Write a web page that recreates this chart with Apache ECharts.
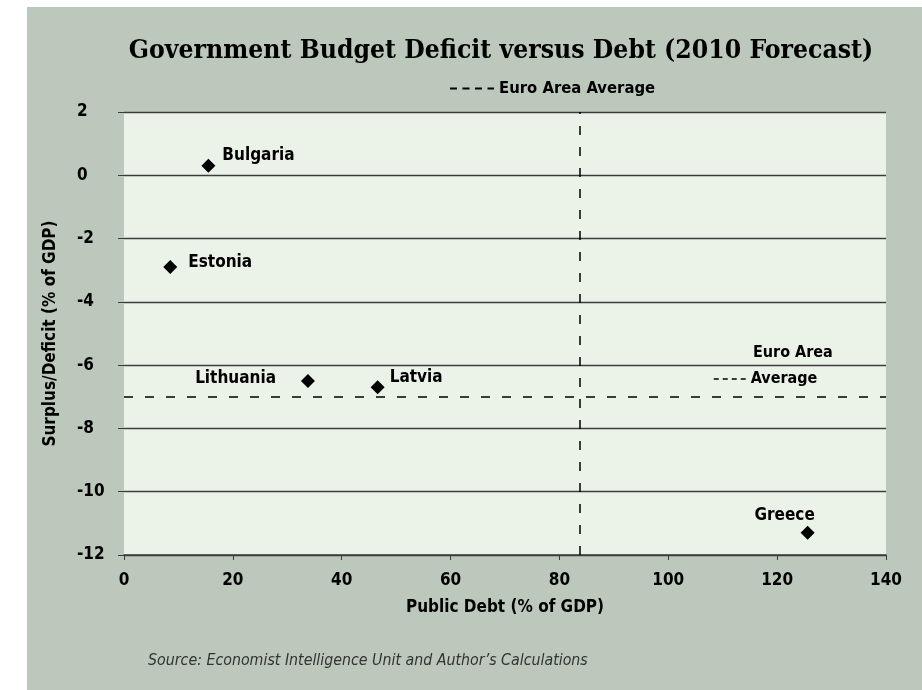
<!DOCTYPE html>
<html>
<head>
<meta charset="utf-8">
<script src="https://cdn.jsdelivr.net/npm/echarts@6/dist/echarts.min.js"></script>
<style>
  html, body { margin: 0; padding: 0; background: #ffffff; }
  #chart { width: 922px; height: 690px; }
</style>
</head>
<body>
<div id="chart"></div>
<script>
// Country points: public debt vs budget balance (% of GDP)
const countries = ['Bulgaria', 'Estonia', 'Lithuania', 'Latvia', 'Greece'];
const publicDebt = [15.5, 8.5, 33.8, 46.6, 125.6];
const budgetBalance = [0.3, -2.9, -6.5, -6.7, -11.3];

// Euro area averages
const euroAvgDebt = 83.7;
const euroAvgBalance = -7.0;

// Label placement per country (style only)
const labelStyle = {
  Bulgaria: { position: 'right', offset: [2, -10] },
  Estonia: { position: 'right', offset: [6, -4] },
  Lithuania: { position: 'left', offset: [-20, -2] },
  Latvia: { position: 'right', offset: [0, -10] },
  Greece: { position: 'top', offset: [-23, 3] },
};

const FONT = "'Liberation Sans Narrow', 'DejaVu Sans Condensed', 'Roboto', sans-serif";
const COLORS = {
  panel: '#bdc8bc',
  plot: '#ebf2e7',
  grid: '#3c3c3c',
  text: '#000000',
};

const chart = echarts.init(document.getElementById('chart'));

const points = countries.map((name, i) => {
  const ls = labelStyle[name];
  return {
    name: name,
    value: [publicDebt[i], budgetBalance[i]],
    label: { show: true, formatter: '{b}', position: ls.position, offset: ls.offset },
  };
});

const option = {
  backgroundColor: '#ffffff',
  animation: false,

  graphic: [
    {
      type: 'rect',
      z: -10,
      shape: { x: 27, y: 7, width: 895, height: 683 },
      style: { fill: COLORS.panel },
    },
    {
      type: 'text',
      left: 753,
      top: 345,
      style: { text: 'Euro Area', font: 'bold 16px ' + FONT, fill: COLORS.text },
    },
  ],

  title: [
    {
      text: 'Government Budget Deficit versus Debt (2010 Forecast)',
      left: 496,
      textAlign: 'center',
      top: 33,
      textStyle: { fontFamily: "'DejaVu Serif Condensed', 'DejaVu Serif', serif", fontWeight: 'bold', fontSize: 26.3, color: '#000' },
    },
    {
      text: 'Source: Economist Intelligence Unit and Author\u2019s Calculations',
      left: 143,
      top: 648,
      textStyle: { fontFamily: FONT, fontStyle: 'italic', fontWeight: 'normal', fontSize: 15.8, color: '#333' },
    },
  ],

  legend: [
    {
      data: ['Euro Area Average'],
      top: 80,
      left: 449,
      padding: 0,
      itemWidth: 44,
      itemHeight: 10,
      itemGap: 10,
      itemStyle: { opacity: 0 },
      lineStyle: { type: [7, 5.5], width: 2, color: '#000' },
      textStyle: { fontFamily: FONT, fontWeight: 'bold', fontSize: 16.5, color: COLORS.text },
    },
    {
      data: ['Euro Area Average'],
      top: 371,
      left: 713,
      padding: 0,
      itemWidth: 32,
      itemHeight: 10,
      itemGap: 10,
      itemStyle: { opacity: 0 },
      lineStyle: { type: [5, 4], width: 1.5, color: '#000' },
      formatter: () => 'Average',
      textStyle: { fontFamily: FONT, fontWeight: 'bold', fontSize: 16, color: COLORS.text },
    },
  ],

  grid: {
    left: 124, right: 36, top: 112, bottom: 135,
    show: true, backgroundColor: COLORS.plot, borderWidth: 0,
  },

  xAxis: {
    type: 'value',
    min: 0, max: 140, interval: 20,
    name: 'Public Debt (% of GDP)',
    nameLocation: 'middle',
    nameGap: 44,
    nameTextStyle: { fontFamily: FONT, fontWeight: 'bold', fontSize: 17, color: COLORS.text },
    axisLine: { show: true, onZero: false, lineStyle: { color: COLORS.grid, width: 1.5 } },
    axisTick: { show: true, length: 5, lineStyle: { color: COLORS.grid } },
    axisLabel: { margin: 17, fontFamily: FONT, fontWeight: 'bold', fontSize: 17, color: COLORS.text },
    splitLine: { show: false },
  },

  yAxis: {
    type: 'value',
    min: -12, max: 2, interval: 2,
    name: 'Surplus/Deficit (% of GDP)',
    nameLocation: 'middle',
    nameGap: 65,
    nameRotate: 90,
    nameTextStyle: { fontFamily: FONT, fontWeight: 'bold', fontSize: 17, color: COLORS.text },
    axisLine: { show: false, onZero: false },
    axisTick: { show: true, length: 6, lineStyle: { color: COLORS.grid } },
    axisLabel: { align: 'left', margin: 47, fontFamily: FONT, fontWeight: 'bold', fontSize: 17, color: COLORS.text },
    splitLine: { show: true, lineStyle: { color: COLORS.grid, width: 1.3 } },
  },

  series: [
    {
      name: 'Countries',
      type: 'scatter',
      symbol: 'diamond',
      symbolSize: 14,
      itemStyle: { color: '#000', opacity: 1 },
      label: { fontFamily: FONT, fontWeight: 'bold', fontSize: 17, color: COLORS.text },
      data: points,
      markLine: {
        silent: true,
        symbol: 'none',
        label: { show: false },
        lineStyle: { color: '#000', width: 1.5, type: [9, 12] },
        data: [{ xAxis: euroAvgDebt }, { yAxis: euroAvgBalance }],
      },
    },
    {
      // legend entry for the dashed average lines
      name: 'Euro Area Average',
      type: 'line',
      symbol: 'none',
      itemStyle: { color: '#000' },
      lineStyle: { color: '#000', width: 1.5, type: 'dashed' },
      data: [],
    },
  ],
};

chart.setOption(option);
</script>
</body>
</html>
